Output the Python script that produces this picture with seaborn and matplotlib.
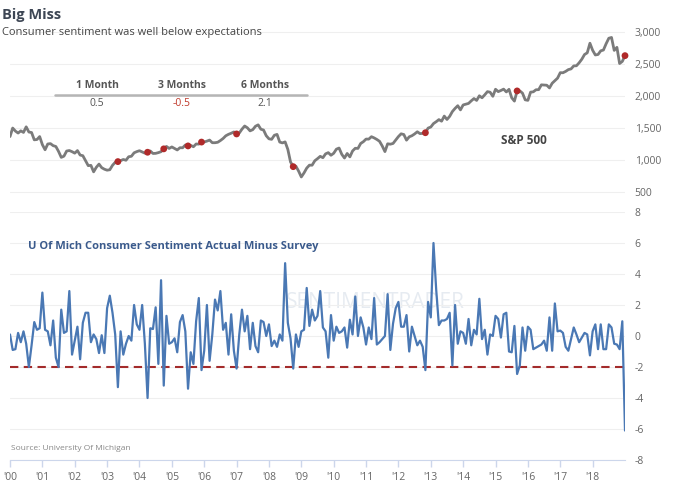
import numpy as np
import pandas as pd
import matplotlib
matplotlib.use("Agg")
import matplotlib.pyplot as plt
import seaborn as sns
from matplotlib.lines import Line2D

# S&P 500, monthly, Jan 2000 .. Jan 2019 (as plotted)
sp500 = [
    1366, 1499, 1452, 1421, 1455, 1431, 1518, 1437, 1429, 1315, 1320,
    1366, 1240, 1160, 1250, 1256, 1224, 1211, 1134, 1041, 1060, 1140, 1148,
    1130, 1107, 1147, 1077, 1067, 990, 912, 916, 815, 886, 936, 880,
    856, 841, 848, 917, 964, 975, 990, 1008, 996, 1051, 1058, 1112,
    1131, 1145, 1126, 1107, 1121, 1141, 1102, 1104, 1115, 1130, 1174, 1212,
    1181, 1204, 1181, 1157, 1192, 1191, 1234, 1220, 1229, 1207, 1250, 1248,
    1280, 1281, 1295, 1311, 1270, 1270, 1277, 1304, 1336, 1378, 1401, 1418,
    1438, 1407, 1421, 1482, 1531, 1503, 1455, 1474, 1527, 1549, 1481, 1468,
    1379, 1331, 1323, 1386, 1400, 1280, 1267, 1283, 1166, 969, 896, 903,
    826, 735, 798, 873, 919, 919, 988, 1021, 1057, 1036, 1096, 1115,
    1074, 1105, 1169, 1187, 1089, 1031, 1102, 1049, 1141, 1183, 1181, 1258,
    1286, 1327, 1326, 1364, 1345, 1321, 1292, 1219, 1131, 1253, 1247, 1258,
    1312, 1366, 1409, 1398, 1310, 1362, 1379, 1407, 1441, 1412, 1416, 1426,
    1498, 1515, 1569, 1598, 1631, 1606, 1686, 1633, 1682, 1757, 1806, 1848,
    1783, 1860, 1872, 1884, 1924, 1960, 1931, 2003, 1972, 2018, 2068, 2059,
    1995, 2105, 2068, 2086, 2107, 2063, 2104, 1972, 1920, 2079, 2080, 2044,
    1940, 1932, 2060, 2065, 2097, 2099, 2174, 2171, 2168, 2126, 2199, 2239,
    2279, 2364, 2363, 2384, 2412, 2423, 2470, 2472, 2519, 2575, 2648, 2674,
    2824, 2714, 2641, 2648, 2705, 2718, 2816, 2902, 2914, 2712, 2760, 2507,
    2540, 2630,
]

# U of Mich consumer sentiment, actual minus survey, same months
sentiment_diff = [
    0.1, -0.9, -0.85, 0.2, -0.4, 0.3, -0.5, -2.0, -0.6, 0.9, 0.4, 0.5,
    2.8, 0.4, 0.3, -0.6, 1.0, -1.4, -2.0, 1.7, 0.2, 0.3, 2.9, -1.2,
    -0.3, 0.6, -1.5, 0.85, 1.5, 1.5, -0.4, 0.1, -0.2, -1.1, 0.05, -1.1,
    1.8, 2.6, 1.5, 0.1, -3.3, 0.3, -1.2, -0.5, 0.0, -0.3, 2.0, 0.75,
    0.4, 2.0, -0.5, -4.0, 0.5, 0.45, 1.85, -1.8, 3.6, -3.2, 1.3, -0.5,
    -0.4, -0.15, -1.05, 0.9, 1.35, 0.3, -3.4, -1.05, -1.8, 0.95, 2.45, -2.2,
    -0.95, 2.0, -1.6, 0.1, 2.35, 1.65, 2.9, 0.4, 0.85, -1.2, 1.4, -0.95,
    -2.1, 0.1, 1.7, 0.3, 1.3, -0.85, 0.85, -0.65, -1.05, 1.0, 0.9, 0.0,
    0.75, -0.65, -0.3, -0.7, 0.1, -0.3, 4.7, 0.85, -0.15, -2.1, 0.1, -0.7,
    0.3, 0.4, 3.1, 0.65, 1.7, 1.0, 1.3, 2.9, 0.55, 0.3, -1.4, 1.35,
    -0.3, 0.6, 0.2, 0.3, 0.55, -0.75, 1.05, 0.1, 2.55, 0.0, 1.2, 0.55,
    -0.55, 0.55, -0.2, 2.45, -0.55, -0.4, -0.2, 0.0, 2.7, -0.9, 0.8, 1.8,
    2.2, 0.6, 0.6, 1.35, -1.0, 0.6, 0.0, -0.6, -0.3, -0.7, -2.2, 2.2,
    1.2, 6.0, 3.0, 0.7, 1.0, 1.0, 1.1, 1.5, -1.9, 2.0, -0.5, 0.3,
    0.2, -0.5, 1.1, -0.6, 0.4, 0.1, 2.4, -0.2, 0.4, -1.2, 0.1, 0.0,
    1.3, 1.1, -0.1, 1.4, 1.5, -1.0, -1.05, 0.65, -2.45, -1.9, 0.55, -0.95,
    0.6, 0.4, -0.85, -0.75, -0.65, -0.55, -0.3, -0.95, 1.2, -0.95, 2.1, 0.3,
    0.35, 0.2, -0.7, -0.95, -0.2, 0.55, 0.1, -0.4, -0.1, 0.2, 0.1, -1.25,
    0.3, 0.75, -0.85, 0.75, -0.85, -0.85, 0.75, 0.55, -0.5, -0.55, -0.85, 0.95,
    -6.1,
]

threshold = -2
years = list(range(2000, 2019))
year_labels = ["'" + str(y)[2:] for y in years]
sp_ticks = [500, 1000, 1500, 2000, 2500, 3000]
sent_ticks = [-8, -6, -4, -2, 0, 2, 4, 6, 8]

table_periods = ["1 Month", "3 Months", "6 Months"]
table_returns = [0.5, -0.5, 2.1]

df = pd.DataFrame({"sp500": sp500, "sentiment": sentiment_diff})
df["year"] = 2000 + np.arange(len(df)) / 12
df["signal"] = df["sentiment"] < threshold

sns.set_style("white")
plt.rcParams["font.family"] = ["Open Sans", "DejaVu Sans"]

W, H = 674, 491
fig = plt.figure(figsize=(W / 100, H / 100), dpi=100)


def fx(px):
    return px / W


def fy(py):
    return 1 - py / H


grid_c = "#efefef"
tick_c = "#666666"
axis_c = "#ccd6eb"

# top panel: S&P 500
ax_top = fig.add_axes([fx(10), fy(205), fx(625) - fx(10), fy(28) - fy(205)])
sns.lineplot(data=df, x="year", y="sp500", ax=ax_top, color="#7b7b7b", lw=2)
sns.scatterplot(data=df[df["signal"]], x="year", y="sp500", ax=ax_top,
                color="#b02a2a", s=24, edgecolor="none", zorder=4, clip_on=False)
ax_top.set_xlim(2000, 2019)
ax_top.set_ylim(297, 3062)
ax_top.set_yticks(sp_ticks)
ax_top.set_yticklabels([f"{v:,}" for v in sp_ticks])
ax_top.yaxis.tick_right()
ax_top.tick_params(axis="y", length=0, pad=7, labelsize=7.5, labelcolor=tick_c)
ax_top.set_xticks([])
ax_top.grid(axis="y", color=grid_c, lw=0.8)
ax_top.set_xlabel("")
ax_top.set_ylabel("")
for s in ax_top.spines.values():
    s.set_visible(False)

# bottom panel: sentiment surprise
ax_bot = fig.add_axes([fx(10), fy(460), fx(625) - fx(10), fy(212) - fy(460)])
ax_bot.text(fx(375), fy(302), "SENTIMENTRADER", transform=fig.transFigure,
            ha="center", va="center", fontsize=15, color="#e6ebf1", zorder=0)
sns.lineplot(data=df, x="year", y="sentiment", ax=ax_bot, color="#4a78b4", lw=1.6)
ax_bot.axhline(threshold, color="#a32b2b", ls=(0, (4, 2.6)), lw=1.5, zorder=1)
ax_bot.set_xlim(2000, 2019)
ax_bot.set_ylim(-8, 8)
ax_bot.set_yticks(sent_ticks)
ax_bot.set_yticklabels([str(v) for v in sent_ticks])
ax_bot.yaxis.tick_right()
ax_bot.tick_params(axis="y", length=0, pad=7, labelsize=7.5, labelcolor=tick_c)
ax_bot.set_xticks(years)
ax_bot.set_xticklabels(year_labels)
ax_bot.tick_params(axis="x", length=5, width=1, color=axis_c, pad=4,
                   labelsize=7.5, labelcolor=tick_c, bottom=True)
ax_bot.grid(axis="y", color=grid_c, lw=0.8)
ax_bot.set_xlabel("")
ax_bot.set_ylabel("")
for name, s in ax_bot.spines.items():
    s.set_visible(name == "bottom")
ax_bot.spines["bottom"].set_color(axis_c)

# titles and annotations
fig.text(fx(2), fy(15), "Big Miss", fontsize=10.5, fontweight="bold",
         color="#3d4654", va="center")
fig.text(fx(2), fy(33), "Consumer sentiment was well below expectations",
         fontsize=8, color="#444444", va="center")

col_x = [97, 182, 265]
for x, label, val in zip(col_x, table_periods, table_returns):
    fig.text(fx(x), fy(85), label, ha="center", va="center", fontsize=7.5,
             fontweight="bold", color="#555555")
    fig.text(fx(x), fy(103), f"{val:.1f}", ha="center", va="center",
             fontsize=7.5, color="#c0392b" if val < 0 else "#555555")
fig.add_artist(Line2D([fx(55), fx(307)], [fy(95), fy(95)], color="#b5b5b5", lw=1.8))

fig.text(fx(524), fy(140), "S&P 500", ha="center", va="center", fontsize=8.5,
         fontweight="bold", color="#444444")
fig.text(fx(28), fy(247), "U Of Mich Consumer Sentiment Actual Minus Survey",
         va="center", fontsize=8, fontweight="bold", color="#3a5a8c")
fig.text(fx(11), fy(448), "Source: University Of Michigan", va="center",
         fontsize=6, color="#888888")

fig.savefig("out.png", dpi=100)
